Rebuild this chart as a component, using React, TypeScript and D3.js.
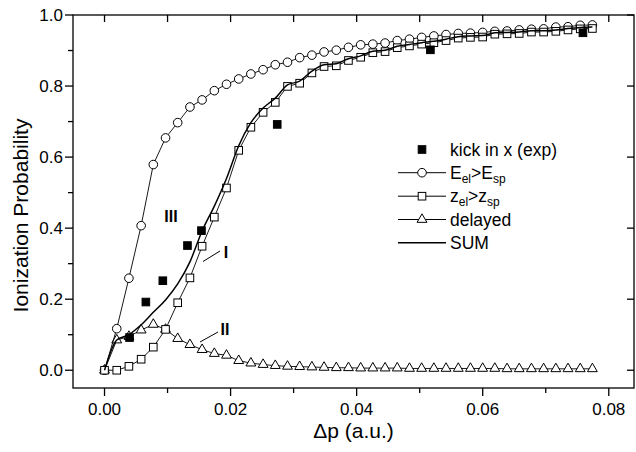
import { useEffect, useRef } from "react";
import * as d3 from "d3";

// momentum transfer grid shared by the three model curves
const dp = [
  0, 0.00194, 0.00387, 0.00581, 0.00774, 0.00968, 0.01161, 0.01355, 0.01548,
  0.01742, 0.01935, 0.02129, 0.02322, 0.02516, 0.02709, 0.02903, 0.03096,
  0.0329, 0.03483, 0.03677, 0.0387, 0.04064, 0.04257, 0.04451, 0.04644,
  0.04838, 0.05031, 0.05225, 0.05418, 0.05612, 0.05805, 0.05999, 0.06192,
  0.06386, 0.06579, 0.06773, 0.06966, 0.0716, 0.07353, 0.07547, 0.0774,
];

const energyCrit = [
  0, 0.117, 0.259, 0.407, 0.579, 0.654, 0.697, 0.741, 0.761, 0.787, 0.805,
  0.82, 0.834, 0.846, 0.86, 0.867, 0.88, 0.887, 0.896, 0.901, 0.909, 0.916,
  0.918, 0.921, 0.928, 0.932, 0.937, 0.941, 0.945, 0.948, 0.949, 0.951, 0.954,
  0.955, 0.958, 0.96, 0.961, 0.966, 0.967, 0.971, 0.972,
];

const positionCrit = [
  0, 0, 0.011, 0.031, 0.065, 0.115, 0.19, 0.26, 0.349, 0.431, 0.513, 0.619,
  0.684, 0.726, 0.754, 0.799, 0.808, 0.837, 0.855, 0.857, 0.872, 0.881, 0.894,
  0.897, 0.908, 0.913, 0.918, 0.922, 0.928, 0.935, 0.937, 0.938, 0.946, 0.947,
  0.948, 0.952, 0.952, 0.954, 0.958, 0.961, 0.962,
];

const delayed = [
  0, 0.085, 0.095, 0.113, 0.129, 0.115, 0.089, 0.072, 0.058, 0.047, 0.042,
  0.027, 0.02, 0.016, 0.013, 0.011, 0.01, 0.009, 0.008, 0.007, 0.007, 0.006,
  0.006, 0.006, 0.006, 0.005, 0.005, 0.005, 0.005, 0.005, 0.005, 0.005, 0.005,
  0.004, 0.004, 0.004, 0.004, 0.004, 0.004, 0.004, 0.004,
];

const sum = [
  0, 0.085, 0.1, 0.128, 0.163, 0.198, 0.243, 0.305, 0.392, 0.462, 0.54, 0.632,
  0.697, 0.738, 0.766, 0.803, 0.814, 0.842, 0.86, 0.863, 0.877, 0.885, 0.898,
  0.901, 0.912, 0.917, 0.922, 0.926, 0.932, 0.939, 0.941, 0.942, 0.95, 0.951,
  0.952, 0.956, 0.956, 0.958, 0.962, 0.965, 0.966,
];

// experiment
const expX = [0.00397, 0.00656, 0.00925, 0.01316, 0.01538, 0.0274, 0.0517, 0.0759];
const expY = [0.092, 0.192, 0.252, 0.351, 0.393, 0.692, 0.902, 0.95];

const xMajor = [0, 0.02, 0.04, 0.06, 0.08];
const xMinor = [0.01, 0.03, 0.05, 0.07];
const yMajor = [0, 0.2, 0.4, 0.6, 0.8, 1.0];
const yMinor = [0.1, 0.3, 0.5, 0.7, 0.9];

const FONT = "'Liberation Sans', Arial, Helvetica, sans-serif";

export default function App() {
  const ref = useRef<SVGSVGElement>(null);

  useEffect(() => {
    if (!ref.current) return;
    const svg = d3.select(ref.current);
    svg.selectAll("*").remove();

    const left = 73, right = 634, top = 15, bottom = 388;
    const x = d3.scaleLinear().domain([-0.005, 0.084]).range([left, right]);
    const y = d3.scaleLinear().domain([-0.05, 1.0]).range([bottom, top]);

    // frame
    svg.append("rect")
      .attr("x", left).attr("y", top)
      .attr("width", right - left).attr("height", bottom - top)
      .attr("fill", "none").attr("stroke", "#000").attr("stroke-width", 1.3);

    const ticks = svg.append("g").attr("stroke", "#000").attr("stroke-width", 1.3);
    // bottom, outward
    xMajor.forEach((v) => ticks.append("line").attr("x1", x(v)).attr("x2", x(v)).attr("y1", bottom).attr("y2", bottom + 8));
    xMinor.forEach((v) => ticks.append("line").attr("x1", x(v)).attr("x2", x(v)).attr("y1", bottom).attr("y2", bottom + 5));
    // top, inward
    xMajor.concat(xMinor).forEach((v) => ticks.append("line").attr("x1", x(v)).attr("x2", x(v)).attr("y1", top).attr("y2", top + 7));
    // left, outward
    yMajor.forEach((v) => ticks.append("line").attr("x1", left - 8).attr("x2", left).attr("y1", y(v)).attr("y2", y(v)));
    yMinor.forEach((v) => ticks.append("line").attr("x1", left - 5).attr("x2", left).attr("y1", y(v)).attr("y2", y(v)));
    // right, inward
    yMajor.forEach((v) => ticks.append("line").attr("x1", right - 7).attr("x2", right).attr("y1", y(v)).attr("y2", y(v)));

    const fmt = d3.format(".2f");
    svg.append("g").selectAll("text").data(xMajor).enter().append("text")
      .attr("x", (d) => x(d)).attr("y", bottom + 27)
      .attr("text-anchor", "middle").attr("font-family", FONT).attr("font-size", 17)
      .text((d) => fmt(d));
    svg.append("g").selectAll("text").data(yMajor).enter().append("text")
      .attr("x", left - 10).attr("y", (d) => y(d) + 6)
      .attr("text-anchor", "end").attr("font-family", FONT).attr("font-size", 17)
      .text((d) => d3.format(".1f")(d));

    // axis titles
    svg.append("text")
      .attr("x", (left + right) / 2).attr("y", 438)
      .attr("text-anchor", "middle").attr("font-family", FONT).attr("font-size", 21)
      .text("\u0394p (a.u.)");
    svg.append("text")
      .attr("transform", `translate(28,${(top + bottom) / 2 + 14}) rotate(-90)`)
      .attr("text-anchor", "middle").attr("font-family", FONT).attr("font-size", 21)
      .text("Ionization Probability");

    const pts = (vals: number[]) => vals.map((v, i) => [dp[i], v] as [number, number]);
    const line = d3.line<[number, number]>().x((d) => x(d[0])).y((d) => y(d[1]));
    const smooth = d3.line<[number, number]>().x((d) => x(d[0])).y((d) => y(d[1])).curve(d3.curveMonotoneX);

    const plot = svg.append("g");

    const circle = (g: any, cx: number, cy: number) =>
      g.append("circle").attr("cx", cx).attr("cy", cy).attr("r", 4.3)
        .attr("fill", "#fff").attr("stroke", "#000").attr("stroke-width", 1);
    const square = (g: any, cx: number, cy: number, filled = false) =>
      g.append("rect").attr("x", cx - 3.8).attr("y", cy - 3.8).attr("width", 7.6).attr("height", 7.6)
        .attr("fill", filled ? "#000" : "#fff").attr("stroke", "#000").attr("stroke-width", 1);
    const tri = (g: any, cx: number, cy: number) =>
      g.append("path")
        .attr("d", d3.symbol(d3.symbolTriangle, 42)())
        .attr("transform", `translate(${cx},${cy})`)
        .attr("fill", "#fff").attr("stroke", "#000").attr("stroke-width", 1);

    // delayed
    plot.append("path").attr("d", line(pts(delayed))).attr("fill", "none").attr("stroke", "#000").attr("stroke-width", 0.9);
    pts(delayed).forEach((d) => tri(plot, x(d[0]), y(d[1])));

    // E_el > E_sp
    plot.append("path").attr("d", line(pts(energyCrit))).attr("fill", "none").attr("stroke", "#000").attr("stroke-width", 0.9);
    pts(energyCrit).forEach((d) => circle(plot, x(d[0]), y(d[1])));

    // z_el > z_sp
    plot.append("path").attr("d", line(pts(positionCrit))).attr("fill", "none").attr("stroke", "#000").attr("stroke-width", 0.9);
    pts(positionCrit).forEach((d) => square(plot, x(d[0]), y(d[1])));

    // SUM
    plot.append("path").attr("d", smooth(pts(sum))).attr("fill", "none").attr("stroke", "#000").attr("stroke-width", 1.5);

    // experiment
    expX.forEach((v, i) => square(plot, x(v), y(expY[i]), true));

    // annotations
    const note = svg.append("g").attr("font-family", FONT).attr("font-size", 16).attr("font-weight", "bold");
    note.append("text").attr("x", 171).attr("y", 222).attr("text-anchor", "middle").text("III");
    note.append("text").attr("x", 226).attr("y", 258).attr("text-anchor", "middle").text("I");
    note.append("text").attr("x", 225).attr("y", 335).attr("text-anchor", "middle").text("II");
    svg.append("line").attr("x1", 203).attr("y1", 261.5).attr("x2", 220).attr("y2", 251).attr("stroke", "#000").attr("stroke-width", 1);
    svg.append("line").attr("x1", 200).attr("y1", 342).attr("x2", 218).attr("y2", 332).attr("stroke", "#000").attr("stroke-width", 1);

    // legend
    const lg = svg.append("g").attr("font-family", FONT).attr("font-size", 17.5);
    const lx0 = 398, lx1 = 446, lcx = 422, tx = 450;
    const rows = [149.5, 172.7, 196.2, 219.5, 242.8];
    square(lg, lcx, rows[0], true);
    [1, 2, 3, 4].forEach((r) =>
      lg.append("line").attr("x1", lx0).attr("x2", lx1).attr("y1", rows[r]).attr("y2", rows[r]).attr("stroke", "#000").attr("stroke-width", r === 4 ? 1.5 : 1));
    circle(lg, lcx, rows[1]);
    square(lg, lcx, rows[2]);
    tri(lg, lcx, rows[3]);

    lg.append("text").attr("x", tx).attr("y", rows[0] + 6).text("kick in x (exp)");
    const sub = (t: any, main1: string, s1: string, main2: string, s2: string) => {
      t.append("tspan").text(main1);
      t.append("tspan").attr("font-size", 12).attr("dy", 4).text(s1);
      t.append("tspan").attr("dy", -4).text(main2);
      t.append("tspan").attr("font-size", 12).attr("dy", 4).text(s2);
    };
    sub(lg.append("text").attr("x", tx).attr("y", rows[1] + 6), "E", "el", ">E", "sp");
    sub(lg.append("text").attr("x", tx).attr("y", rows[2] + 6), "z", "el", ">z", "sp");
    lg.append("text").attr("x", tx).attr("y", rows[3] + 6).text("delayed");
    lg.append("text").attr("x", tx).attr("y", rows[4] + 6).text("SUM");
  }, []);

  return (
    <svg
      ref={ref}
      width={636}
      height={452}
      style={{ position: "absolute", left: 0, top: 0, background: "#fff" }}
    />
  );
}
